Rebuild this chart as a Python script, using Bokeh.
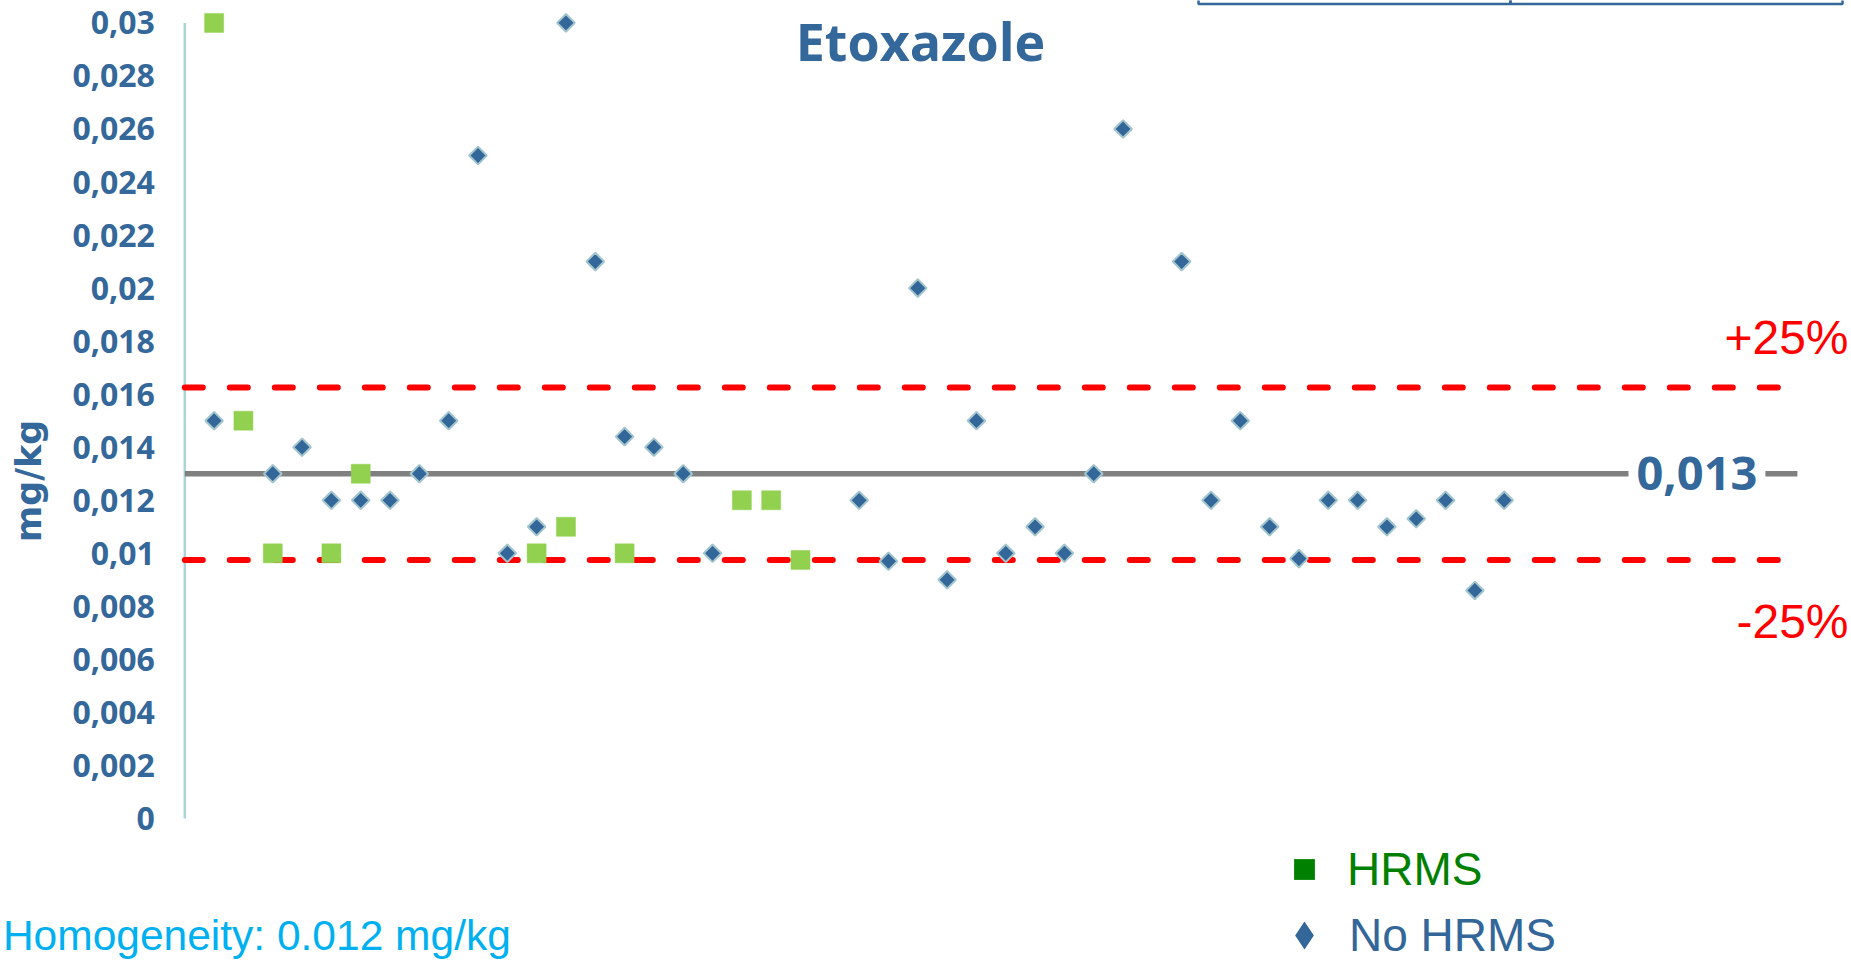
import math
from bokeh.plotting import figure
from bokeh.models import Range1d, FixedTicker, Label, Legend, LegendItem, BoxAnnotation
from bokeh.embed import file_html
from bokeh.resources import INLINE

# ---------------- data ----------------
hrms_lab = [1, 2, 3, 5, 6, 12, 13, 15, 19, 20, 21]
hrms_val = [0.030, 0.015, 0.010, 0.010, 0.013, 0.010, 0.011, 0.010, 0.012, 0.012, 0.00975]

nohrms_lab = [1, 3, 4, 5, 6, 7, 8, 9, 10, 11, 12, 13, 14, 15, 16, 17, 18,
              23, 24, 25, 26, 27, 28, 29, 30, 31, 32,
              34, 35, 36, 37, 38, 39, 40, 41, 42, 43, 44, 45]
nohrms_val = [0.015, 0.013, 0.014, 0.012, 0.012, 0.012, 0.013, 0.015, 0.025, 0.010, 0.011, 0.030, 0.021, 0.0144, 0.014, 0.013, 0.010,
              0.012, 0.0097, 0.020, 0.009, 0.015, 0.010, 0.011, 0.010, 0.013, 0.026,
              0.021, 0.012, 0.015, 0.011, 0.0098, 0.012, 0.012, 0.011, 0.0113, 0.012, 0.0086, 0.012]

assigned_value = 0.013
upper_limit = 0.01625   # +25 %
lower_limit = 0.00975   # -25 %
line_extent = [0, 55]

tick_values = [0, 0.002, 0.004, 0.006, 0.008, 0.010, 0.012, 0.014, 0.016, 0.018, 0.020, 0.022, 0.024, 0.026, 0.028, 0.030]
tick_labels = ["0", "0,002", "0,004", "0,006", "0,008", "0,01", "0,012", "0,014", "0,016", "0,018",
               "0,02", "0,022", "0,024", "0,026", "0,028", "0,03"]

title_text = "Etoxazole"
assigned_text = "0,013"
upper_text = "+25%"
lower_text = "-25%"
homog_text = "Homogeneity: 0.012 mg/kg"
legend_labels = ["HRMS", "No HRMS"]

# ---------------- layout (canvas pixels) ----------------
W, H = 1851, 961
X0_PX = 184.3       # canvas x of x=0 (axis line)
PX_X = 29.32        # px per lab slot
Y0_PX = 818.0       # canvas y of value 0
PX_Y = 26520.0      # px per mg/kg

def dx(cx):
    return (cx - X0_PX) / PX_X

def dy(cy):
    return (Y0_PX - cy) / PX_Y

BLUE = "#34679A"

p = figure(width=W, height=H,
           x_range=Range1d(dx(0), dx(W)), y_range=Range1d(dy(H), dy(0)),
           output_backend="svg", toolbar_location=None, x_axis_location=None,
           min_border_left=0, min_border_right=0, min_border_top=0, min_border_bottom=0)
p.grid.visible = False
p.outline_line_color = None
p.background_fill_color = "white"
p.border_fill_color = "white"

ax = p.yaxis[0]
ax.fixed_location = 0
ax.ticker = FixedTicker(ticks=tick_values)
ax.major_label_overrides = dict(zip(tick_values, tick_labels))
ax.axis_line_color = None
ax.major_tick_line_color = None
ax.minor_tick_line_color = None
ax.major_tick_out = 0
ax.major_tick_in = 0
ax.major_label_standoff = 30
ax.major_label_text_font = "Open Sans"
ax.major_label_text_font_style = "bold"
ax.major_label_text_font_size = "32px"
ax.major_label_text_color = BLUE
ax.axis_label = "mg/kg"
ax.axis_label_text_font = "DejaVu Sans"
ax.axis_label_text_font_style = "bold"
ax.axis_label_text_font_size = "35px"
ax.axis_label_text_color = BLUE
ax.axis_label_standoff = 20

# legend proxies (zero size in the plot, drawn first)
leg_r1 = p.scatter(x=hrms_lab[:1], y=hrms_val[:1], marker="square", size=0,
                   fill_color="#008000", line_color=None)
leg_r2 = p.scatter(x=nohrms_lab[:1], y=nohrms_val[:1], marker="diamond", size=0,
                   fill_color="#336699", line_color=None)

# visible axis line from 0 to top tick
p.line(x=[0, 0], y=[tick_values[0], tick_values[-1]], line_color="#A9D5D8", line_width=2.5)

# reference lines
p.line(x=line_extent, y=[upper_limit, upper_limit], line_color="#FF0000", line_width=6,
       line_dash="18 27", line_cap="round")
p.line(x=line_extent, y=[lower_limit, lower_limit], line_color="#FF0000", line_width=6,
       line_dash="18 27", line_cap="round")
p.line(x=line_extent, y=[assigned_value, assigned_value], line_color="#808080", line_width=5.3)

# points
p.scatter(x=hrms_lab, y=hrms_val, marker="square", size=19,
          fill_color="#92D050", line_color="#92D050", line_width=0.5)
p.scatter(x=nohrms_lab, y=nohrms_val, marker="square", angle=math.pi / 4, size=12.5,
          fill_color="#336699", line_color="#A3C5CC", line_width=2)

# texts
p.add_layout(Label(x=dx(920), y=dy(40), text=title_text, text_align="center",
                   text_baseline="middle", text_font="Open Sans", text_font_style="bold",
                   text_font_size="52px", text_color=BLUE))
p.add_layout(Label(x=dx(1628), y=dy(472.5), text=assigned_text, text_align="left",
                   text_baseline="middle", text_font="Open Sans", text_font_style="bold",
                   text_font_size="47px", text_color=BLUE,
                   background_fill_color="white", padding=8))
p.add_layout(Label(x=dx(1848), y=dy(337), text=upper_text, text_align="right",
                   text_baseline="middle", text_font="Liberation Sans",
                   text_font_size="48px", text_color="#FF0000"))
p.add_layout(Label(x=dx(1848), y=dy(621), text=lower_text, text_align="right",
                   text_baseline="middle", text_font="Liberation Sans",
                   text_font_size="48px", text_color="#FF0000"))
p.add_layout(Label(x=dx(2.4), y=dy(935), text=homog_text, text_align="left",
                   text_baseline="middle", text_font="Liberation Sans",
                   text_font_size="42.5px", text_color="#00B0F0"))

# cut-off table border at top right
for l, r in [(1198, 1510), (1510, 1842)]:
    p.add_layout(BoxAnnotation(left=dx(l), right=dx(r), top=dy(-10), bottom=dy(3.5),
                               fill_alpha=0, line_color=BLUE, line_alpha=1, line_width=2.5))

# legends: (renderer, label, colour, centre y, glyph box, label start x)
for r, lab, col, cy, gw, tx in [(leg_r1, legend_labels[0], "#008000", 869, 52, 1347),
                                (leg_r2, legend_labels[1], "#336699", 935, 70, 1349)]:
    x0 = 1304 - gw // 2
    gh = max(gw, 60)
    leg = Legend(items=[LegendItem(label=lab, renderers=[r])],
                 location=(x0, H - (cy + gh // 2)),
                 padding=0, margin=0, spacing=0, border_line_color=None,
                 background_fill_alpha=0, glyph_width=gw, glyph_height=gh,
                 label_standoff=tx - (x0 + gw), label_text_font="Liberation Sans",
                 label_text_font_size="46px", label_text_color=col)
    p.add_layout(leg, "center")

open("out.html", "w").write(file_html(p, INLINE))
